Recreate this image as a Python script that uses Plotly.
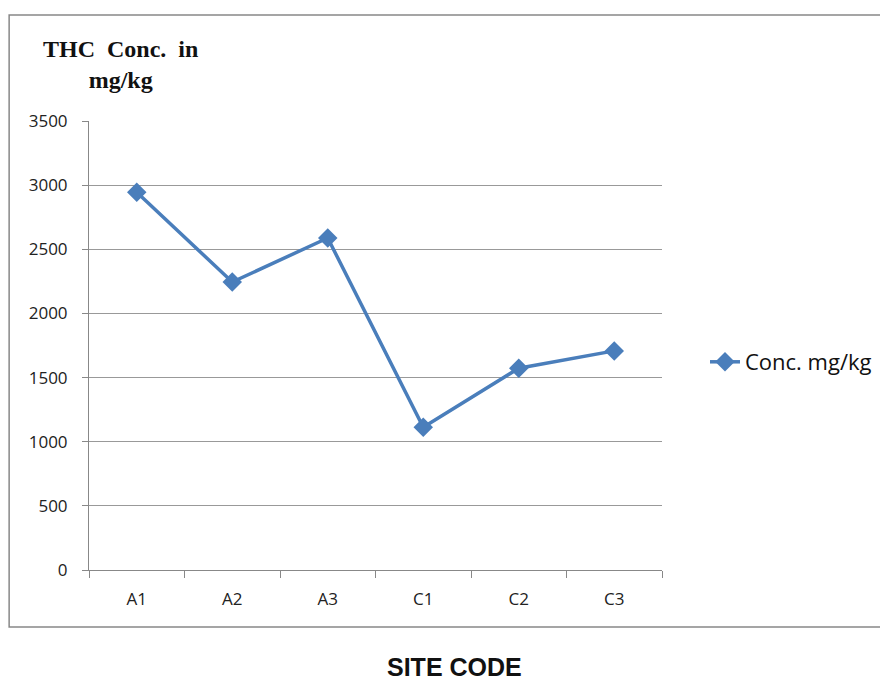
import plotly.graph_objects as go

sites = ["A1", "A2", "A3", "C1", "C2", "C3"]
conc = [2945, 2245, 2588, 1112, 1573, 1708]
y_ticks = [0, 500, 1000, 1500, 2000, 2500, 3000, 3500]

OFF = 8  # page body margin
W, H = 888 - OFF, 681 - OFF
L, R, T, B = 89 - OFF, 888 - 663, 121 - OFF, 681 - 570
pw, ph = W - L - R, H - T - B

def px_x(x):
    return (x - OFF - L) / pw

def px_y(y):
    return (H - B - (y - OFF)) / ph

fig = go.Figure()
fig.add_trace(go.Scatter(
    x=sites, y=conc, mode="lines+markers", name="Conc. mg/kg",
    line=dict(color="#4a7ebb", width=3.5),
    marker=dict(symbol="diamond", size=15, color="#4a7ebb"),
))

tick_font = dict(family="Open Sans, Liberation Sans, sans-serif", size=17, color="#222")

fig.update_layout(
    width=W, height=H,
    margin=dict(l=L, r=R, t=T, b=B),
    paper_bgcolor="white", plot_bgcolor="white",
    showlegend=True,
    legend=dict(x=px_x(705), y=px_y(362), xanchor="left", yanchor="middle",
                font=dict(family="Open Sans, Liberation Sans, sans-serif", size=22, color="#111"),
                bgcolor="rgba(0,0,0,0)"),
    xaxis=dict(type="category", range=[-0.5, 5.5], tickson="boundaries",
               ticks="outside", ticklen=7, tickcolor="#888", showgrid=False,
               showline=True, linecolor="#888", linewidth=1,
               tickfont=tick_font, ticklabelstandoff=14, zeroline=False),
    yaxis=dict(range=[0, 3500], tickvals=y_ticks, ticks="outside", ticklen=6,
               tickcolor="#888", showgrid=True, gridcolor="#999", gridwidth=1,
               showline=True, linecolor="#888", linewidth=1, zeroline=False,
               tickfont=tick_font, ticklabelstandoff=11),
    shapes=[dict(type="rect", xref="paper", yref="paper",
                 x0=px_x(9), x1=px_x(900), y0=px_y(627), y1=px_y(15),
                 line=dict(color="#888", width=1.5), fillcolor="rgba(0,0,0,0)", layer="below")],
    annotations=[
        dict(text="<b>THC  Conc.  in<br>mg/kg</b>", xref="paper", yref="paper",
             x=px_x(121), y=px_y(64), xanchor="center", yanchor="middle",
             align="center", showarrow=False,
             font=dict(family="Liberation Serif, Times New Roman, serif", size=24, color="#111")),
        dict(text="<b>SITE CODE</b>", xref="paper", yref="paper",
             x=px_x(455), y=px_y(667), xanchor="center", yanchor="middle",
             showarrow=False,
             font=dict(family="Liberation Sans Narrow, Arial Narrow, Liberation Sans, sans-serif",
                       size=25, color="#111")),
    ],
)

fig.write_html("out.html")
